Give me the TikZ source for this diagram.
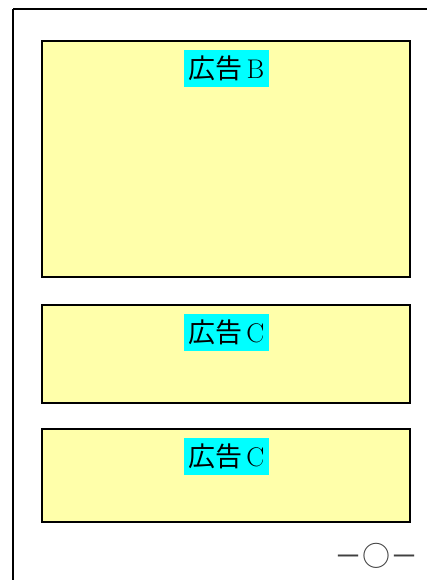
\documentclass[tikz,border=0pt]{standalone}
\usepackage{fontspec}
\newfontfamily\cjk{Noto Sans CJK JP}
\definecolor{adyellow}{HTML}{FFFFAA}
\definecolor{adcyan}{RGB}{0,255,255}
\begin{document}
\begin{tikzpicture}[x=1pt,y=-1pt,
  adbox/.style={draw=black,line width=2pt,fill=adyellow},
  adlabel/.style={fill=adcyan,inner xsep=5pt,inner ysep=6pt,anchor=north,font=\fontsize{27}{30}\selectfont},
  frame/.style={draw=black,line width=2pt}]
\useasboundingbox (0,0) rectangle (427,580);
\begin{scope}
\clip (0,0) rectangle (427,580);
\draw[frame] (13,9) -- (440,9);
\draw[frame] (13,9) -- (13,600);
\end{scope}
\draw[adbox] (42,41) rectangle (410,277);
\draw[adbox] (42,305) rectangle (410,403);
\draw[adbox] (42,429) rectangle (410,522);
\node[adlabel] (lb) at (226.5,50) {{\cjk 広告}\hspace{0.14em}B};
\node[adlabel] (lc1) at (226.5,314) {{\cjk 広告}\hspace{0.14em}C};
\node[adlabel] (lc2) at (226.5,438) {{\cjk 広告}\hspace{0.14em}C};
\node[font=\cjk\fontsize{28}{30}\selectfont,text=black!75,inner sep=0pt] (pg) at (376,556) {－○－};
\end{tikzpicture}
\end{document}
